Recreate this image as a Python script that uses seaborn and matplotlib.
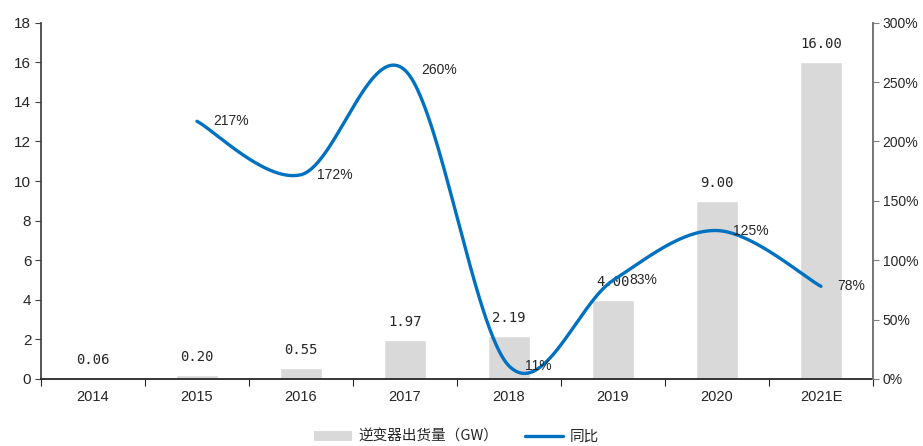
import numpy as np
import pandas as pd
import matplotlib
matplotlib.use("Agg")
import matplotlib.pyplot as plt
from matplotlib.lines import Line2D
from matplotlib.patches import Patch
import seaborn as sns

# Inverter shipments and year-on-year growth
years = ["2014", "2015", "2016", "2017", "2018", "2019", "2020", "2021E"]
shipments_gw = [0.06, 0.20, 0.55, 1.97, 2.19, 4.00, 9.00, 16.00]
yoy_years = ["2015", "2016", "2017", "2018", "2019", "2020", "2021E"]
yoy_pct = [217, 172, 260, 11, 83, 125, 78]

left_ticks = list(range(0, 19, 2))
right_ticks = [0, 50, 100, 150, 200, 250, 300]

bar_color = "#d9d9d9"
line_color = "#0070c0"

sns.set_theme(style="white")
plt.rcParams["font.family"] = ["Liberation Sans", "Noto Sans CJK SC", "DejaVu Sans"]

fig = plt.figure(figsize=(9.23, 4.46), dpi=100)
ax = fig.add_axes([0.0444, 0.1503, 0.9014, 0.7988])

df = pd.DataFrame({"year": years, "gw": shipments_gw})
sns.barplot(data=df, x="year", y="gw", color=bar_color, width=0.4,
            saturation=1, ax=ax, zorder=1)

ax.set_xlim(-0.5, len(years) - 0.5)
ax.set_ylim(0, 18)
ax.set_yticks(left_ticks)
ax.set_xlabel("")
ax.set_ylabel("")

# Value labels above bars
for i, v in enumerate(shipments_gw):
    ax.annotate(f"{v:.2f}", (i, v), xytext=(0, 8), textcoords="offset points",
                ha="center", va="bottom", fontsize=10,
                family="DejaVu Sans Mono", color="#262626")

# Growth line on secondary axis, smoothed with cubic Bezier segments
ax2 = ax.twinx()
ax2.set_ylim(0, 300)
ax2.set_yticks(right_ticks)
ax2.set_yticklabels([f"{t}%" for t in right_ticks])

xs = np.array([years.index(y) for y in yoy_years], dtype=float)
ys = np.array(yoy_pct, dtype=float)
n = len(xs)
tx = np.empty(n)
ty = np.empty(n)
for i in range(n):
    a = max(i - 1, 0)
    b = min(i + 1, n - 1)
    tx[i] = (xs[b] - xs[a]) / 2
    ty[i] = (ys[b] - ys[a]) / 2
curve_x, curve_y = [], []
t = np.linspace(0, 1, 60)
for i in range(n - 1):
    p0 = np.array([xs[i], ys[i]])
    p3 = np.array([xs[i + 1], ys[i + 1]])
    p1 = p0 + np.array([tx[i], ty[i]]) / 3
    p2 = p3 - np.array([tx[i + 1], ty[i + 1]]) / 3
    pts = ((1 - t) ** 3)[:, None] * p0 + (3 * (1 - t) ** 2 * t)[:, None] * p1 \
        + (3 * (1 - t) * t ** 2)[:, None] * p2 + (t ** 3)[:, None] * p3
    curve_x.extend(pts[:, 0])
    curve_y.extend(pts[:, 1])
ax2.plot(curve_x, curve_y, color=line_color, lw=2.4, solid_capstyle="round",
         zorder=3)

for x, v in zip(xs, ys):
    ax2.annotate(f"{int(v)}%", (x, v), xytext=(11.5, 0), textcoords="offset points",
                 ha="left", va="center", fontsize=10, color="#262626")

# Axes styling
for a in (ax, ax2):
    a.spines["top"].set_visible(False)
    a.grid(False)
ax.spines["left"].set_color("#404040")
ax.spines["bottom"].set_color("#262626")
ax.spines["bottom"].set_linewidth(1.3)
ax2.spines["right"].set_color("#808080")
ax2.spines["left"].set_visible(False)
ax2.spines["bottom"].set_visible(False)

ax.tick_params(axis="y", left=True, length=4, width=0.8, color="#404040",
               labelsize=11, labelcolor="#262626", pad=3)
ax2.tick_params(axis="y", right=True, length=4, width=0.8, color="#808080",
                labelsize=10, labelcolor="#262626", pad=3)
ax.tick_params(axis="x", which="major", length=0, labelsize=10.5,
               labelcolor="#262626", pad=8)
ax.set_xticks(np.arange(-0.5, len(years), 1.0), minor=True)
ax.tick_params(axis="x", which="minor", bottom=True, length=5, width=0.8,
               color="#262626")

handles = [Patch(facecolor=bar_color, edgecolor="none"),
           Line2D([0], [0], color=line_color, lw=2.4)]
fig.legend(handles, ["逆变器出货量（GW）", "同比"], loc="center",
           bbox_to_anchor=(0.4946, 0.02), ncol=2, frameon=False,
           prop={"family": ["Noto Sans CJK SC", "DejaVu Sans"], "size": 10.5},
           handlelength=2.6, handleheight=0.6, handletextpad=0.5,
           columnspacing=1.8, labelcolor="#262626")

fig.savefig("out.png", dpi=100)
